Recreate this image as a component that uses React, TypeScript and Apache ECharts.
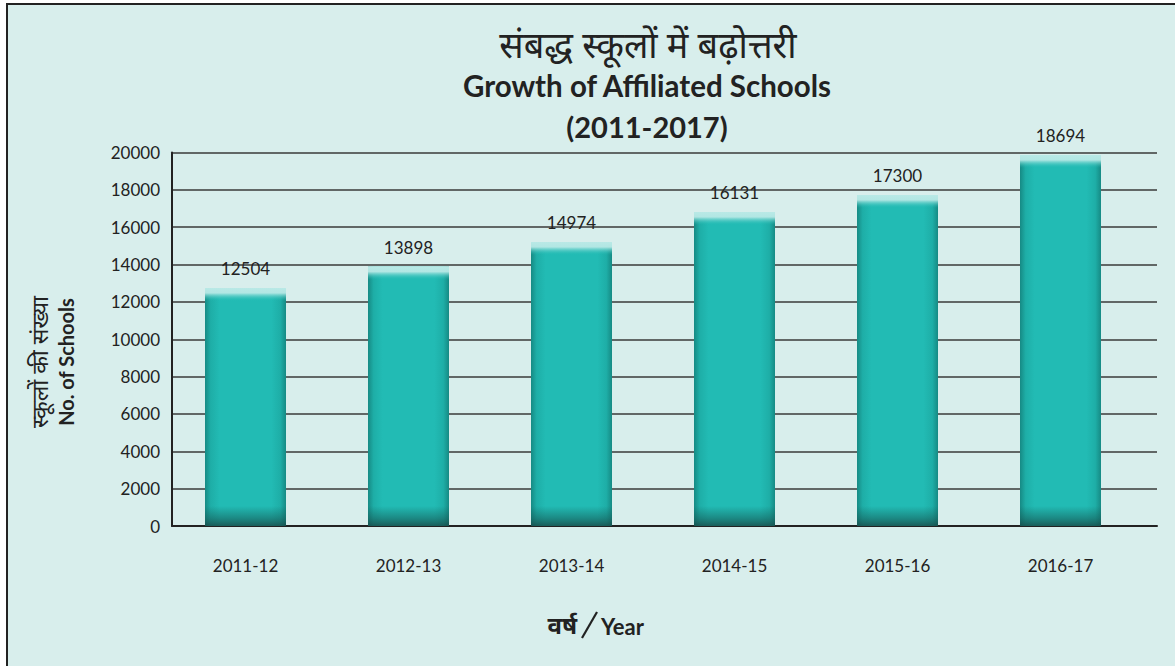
import React, { useEffect, useRef } from "react";
import * as echarts from "echarts";

const categories = ["2011-12", "2012-13", "2013-14", "2014-15", "2015-16", "2016-17"];
// bar heights as drawn in the picture
const barValues = [12744, 13885, 15207, 16814, 17724, 19866];
// numbers printed above the bars
const labelValues = [12504, 13898, 14974, 16131, 17300, 18694];
const yMin = 0;
const yMax = 20000;
const yInterval = 2000;

const titleHi = "संबद्ध स्कूलों में बढ़ोत्तरी";
const titleEn = "Growth of Affiliated Schools";
const titleYears = "(2011-2017)";
const yNameHi = "स्कूलों की संख्या";
const yNameEn = "No. of Schools";
const xNameHi = "वर्ष";
const xNameEn = "Year";

const FONT = "Lato, 'Noto Sans', 'Noto Sans Devanagari', sans-serif";
const PLOT_H = 373.5;

export default function App() {
  const ref = useRef<HTMLDivElement>(null);
  useEffect(() => {
    document.body.style.margin = "0";
    if (!ref.current) return;
    const chart = echarts.init(ref.current, undefined, { renderer: "svg" });
    const sideGrad = new echarts.graphic.LinearGradient(0, 0, 1, 0, [
      { offset: 0, color: "#168a84" },
      { offset: 0.07, color: "#1eaea7" },
      { offset: 0.18, color: "#22bbb4" },
      { offset: 0.82, color: "#22bbb4" },
      { offset: 0.93, color: "#1eaea7" },
      { offset: 1, color: "#168a84" },
    ]);
    const overlayData = barValues.map((v) => {
      const h = (v / yMax) * PLOT_H;
      return {
        value: v,
        itemStyle: {
          color: new echarts.graphic.LinearGradient(0, 0, 0, 1, [
            { offset: 0, color: "rgba(185,233,230,1)" },
            { offset: 5 / h, color: "rgba(185,233,230,0.95)" },
            { offset: 13 / h, color: "rgba(34,187,180,0)" },
            { offset: 1 - 20 / h, color: "rgba(20,90,86,0)" },
            { offset: 1 - 8 / h, color: "rgba(22,88,84,0.5)" },
            { offset: 1, color: "rgba(24,70,68,0.8)" },
          ]),
        },
      };
    });
    chart.setOption({
      animation: false,
      backgroundColor: "transparent",
      textStyle: { fontFamily: FONT },
      grid: [
        { left: 172, right: 18, top: 152.5, bottom: 140 },
        { left: 164, right: 33, top: 152.5, bottom: 140 },
      ],
      xAxis: [
        {
          gridIndex: 0,
          type: "value",
          min: 0,
          max: 1,
          axisLine: { show: true, lineStyle: { color: "#222", width: 2 } },
          axisTick: { show: false },
          axisLabel: { show: false },
          splitLine: { show: false },
        },
        {
          gridIndex: 1,
          type: "category",
          data: categories,
          axisLine: { show: false },
          axisTick: { show: false },
          axisLabel: { fontSize: 17, color: "#222", margin: 31, fontFamily: FONT },
        },
      ],
      yAxis: [
        {
          gridIndex: 0,
          type: "value",
          min: yMin,
          max: yMax,
          interval: yInterval,
          axisLine: { show: true, lineStyle: { color: "#222", width: 2 } },
          axisTick: { show: false },
          axisLabel: {
            fontSize: 17,
            color: "#222",
            margin: 12,
            fontFamily: FONT,
            formatter: (v: number) => String(v),
          },
          splitLine: { show: true, lineStyle: { color: "#3a3a3a", width: 1.5 } },
        },
        {
          gridIndex: 1,
          type: "value",
          min: yMin,
          max: yMax,
          show: false,
          splitLine: { show: false },
        },
      ],
      series: [
        {
          type: "bar",
          xAxisIndex: 1,
          yAxisIndex: 1,
          data: barValues,
          barWidth: 81,
          itemStyle: { color: sideGrad },
        },
        {
          type: "bar",
          xAxisIndex: 1,
          yAxisIndex: 1,
          data: overlayData,
          barWidth: 81,
          barGap: "-100%",
          label: {
            show: true,
            position: "top",
            distance: 11,
            fontSize: 17,
            color: "#222",
            fontFamily: FONT,
            formatter: (p: any) => String(labelValues[p.dataIndex]),
          },
        },
      ],
      graphic: [
        {
          type: "text",
          x: 648,
          y: 44,
          style: {
            text: titleHi,
            fontSize: 36,
            fontWeight: "normal",
            fill: "#222",
            fontFamily: FONT,
            textAlign: "center",
            textVerticalAlign: "middle",
          },
        },
        {
          type: "text",
          x: 647,
          y: 85,
          style: {
            text: titleEn,
            fontSize: 29.5,
            fontWeight: "bold",
            fill: "#222",
            fontFamily: FONT,
            textAlign: "center",
            textVerticalAlign: "middle",
          },
        },
        {
          type: "text",
          x: 647,
          y: 126,
          style: {
            text: titleYears,
            fontSize: 29,
            fontWeight: "bold",
            fill: "#222",
            fontFamily: FONT,
            textAlign: "center",
            textVerticalAlign: "middle",
          },
        },
        {
          type: "text",
          x: 39,
          y: 362,
          rotation: Math.PI / 2,
          style: {
            text: yNameHi,
            fontSize: 23,
            fill: "#222",
            fontFamily: FONT,
            textAlign: "center",
            textVerticalAlign: "middle",
          },
        },
        {
          type: "text",
          x: 66,
          y: 362,
          rotation: Math.PI / 2,
          style: {
            text: yNameEn,
            fontSize: 20,
            fontWeight: "bold",
            fill: "#222",
            fontFamily: FONT,
            textAlign: "center",
            textVerticalAlign: "middle",
          },
        },
        {
          type: "text",
          x: 577,
          y: 624,
          style: {
            text: xNameHi,
            fontSize: 24,
            fontWeight: "bold",
            fill: "#222",
            fontFamily: FONT,
            textAlign: "right",
            textVerticalAlign: "middle",
          },
        },
        {
          type: "line",
          shape: { x1: 597, y1: 612, x2: 582, y2: 638 },
          style: { stroke: "#222", lineWidth: 2.2 },
        },
        {
          type: "text",
          x: 601,
          y: 626,
          style: {
            text: xNameEn,
            fontSize: 22,
            fontWeight: "bold",
            fill: "#222",
            fontFamily: FONT,
            textAlign: "left",
            textVerticalAlign: "middle",
          },
        },
      ],
    });
    return () => chart.dispose();
  }, []);
  return (
    <div style={{ position: "relative", width: 1175, height: 666, overflow: "hidden", background: "#fff" }}>
      <div
        style={{
          position: "absolute",
          left: 6,
          top: 3,
          width: 1180,
          height: 680,
          border: "2px solid #222",
          background: "#d8eeec",
          boxSizing: "border-box",
        }}
      />
      <div ref={ref} style={{ position: "absolute", left: 0, top: 0, width: 1175, height: 666 }} />
    </div>
  );
}
